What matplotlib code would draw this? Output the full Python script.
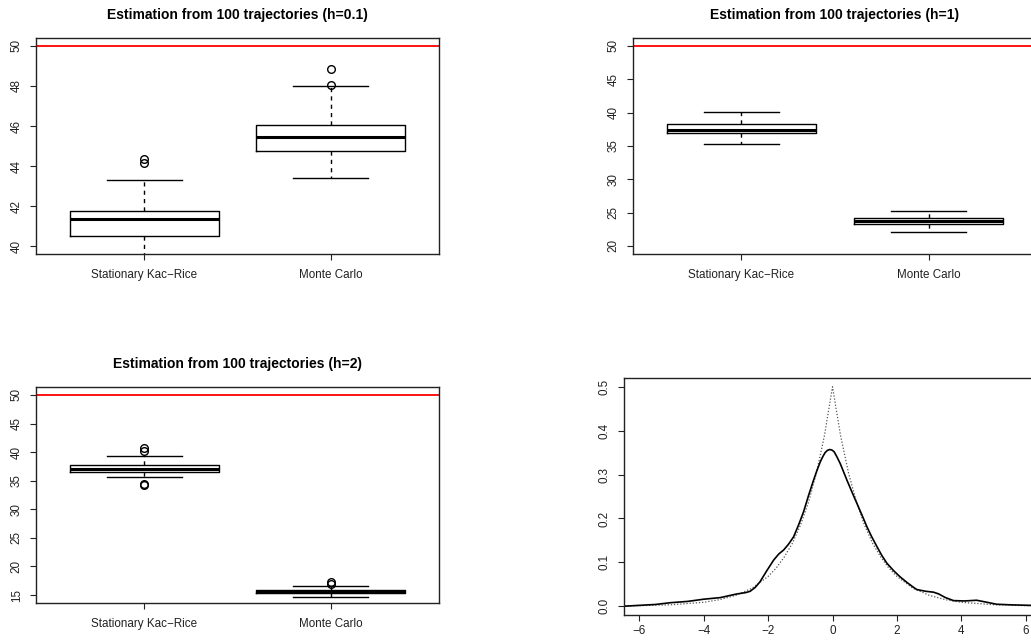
import matplotlib
matplotlib.use("Agg")
import matplotlib.pyplot as plt

plt.rcParams["font.family"] = ["Liberation Sans", "DejaVu Sans"]

W, H = 1031, 640

group_labels = ["Stationary Kac\u2212Rice", "Monte Carlo"]
titles = ["Estimation from 100 trajectories (h=0.1)",
          "Estimation from 100 trajectories (h=1)",
          "Estimation from 100 trajectories (h=2)"]
true_value = 50

# boxplot summaries: (whislo, q1, med, q3, whishi, outliers)
h01_kac = (39.0, 40.5, 41.37, 41.77, 43.3, [44.13, 44.33])
h01_mc = (43.42, 44.77, 45.45, 46.07, 48.0, [48.05, 48.85])
h1_kac = (35.3, 36.9, 37.42, 38.27, 40.08, [])
h1_mc = (22.1, 23.36, 23.8, 24.26, 25.22, [])
h2_kac = (35.63, 36.5, 36.97, 37.8, 39.32, [40.13, 40.73, 34.3, 34.45])
h2_mc = (14.72, 15.35, 15.55, 15.83, 16.58, [16.88, 17.35])

ylims = [(40, 50), (20, 50), (15, 50)]
yticks = [[40, 42, 44, 46, 48, 50], [20, 25, 30, 35, 40, 45, 50],
          [15, 20, 25, 30, 35, 40, 45, 50]]

# density panel
dens_x = [-6.48, -6.0, -5.5, -5.04, -4.5, -4.0, -3.49, -2.97, -2.7, -2.56,
          -2.4, -2.25, -2.05, -1.83, -1.67, -1.52, -1.37, -1.21, -1.05, -0.9,
          -0.75, -0.59, -0.48, -0.38, -0.3, -0.23, -0.16, -0.09, -0.02, 0.05,
          0.14, 0.24, 0.34, 0.45, 0.6, 0.76, 0.92, 1.07, 1.22, 1.38, 1.53,
          1.69, 1.9, 2.1, 2.3, 2.5, 2.62, 2.9, 3.14, 3.3, 3.5, 3.76, 4.1, 4.48,
          4.8, 5.1, 5.6, 6.14, 6.48]
dens_y = [0.0, 0.002, 0.004, 0.008, 0.011, 0.016, 0.0196, 0.028, 0.031,
          0.034, 0.043, 0.056, 0.08, 0.105, 0.119, 0.128, 0.141, 0.158, 0.186,
          0.215, 0.251, 0.287, 0.31, 0.329, 0.341, 0.35, 0.355, 0.357, 0.356,
          0.352, 0.34, 0.325, 0.307, 0.287, 0.261, 0.234, 0.207, 0.181, 0.158,
          0.136, 0.116, 0.098, 0.081, 0.067, 0.055, 0.044, 0.038, 0.034,
          0.032, 0.028, 0.02, 0.0128, 0.012, 0.0136, 0.009, 0.0045, 0.003,
          0.002, 0.0015]
lap_x = [-6.48, -6.0, -5.0, -4.0, -3.5, -3.0, -2.5, -2.0, -1.75, -1.5, -1.25,
         -1.0, -0.75, -0.5, -0.25, 0.0, 0.25, 0.5, 0.75, 1.0, 1.25, 1.5, 1.75,
         2.0, 2.5, 3.0, 3.5, 4.0, 5.0, 6.0, 6.48]
lap_y = [0.0008, 0.0012, 0.0034, 0.009, 0.015, 0.025, 0.041, 0.068, 0.087,
         0.112, 0.143, 0.184, 0.236, 0.303, 0.389, 0.5, 0.389, 0.303, 0.236,
         0.184, 0.143, 0.112, 0.087, 0.068, 0.041, 0.025, 0.015, 0.009,
         0.0034, 0.0012, 0.0008]
dens_xticks = [-6, -4, -2, 0, 2, 4, 6]
dens_yticks = [0.0, 0.1, 0.2, 0.3, 0.4, 0.5]


def px_axes(fig, left, top, right, bottom):
    return fig.add_axes([left / W, 1 - bottom / H, (right - left) / W, (bottom - top) / H])


def r_style(ax, xpad=6.5):
    for s in ax.spines.values():
        s.set_linewidth(1.0)
        s.set_color("#222222")
    ax.tick_params(axis="both", direction="out", length=4.5, width=0.8,
                   labelsize=8.4, colors="#222222")
    ax.tick_params(axis="y", pad=5)
    ax.tick_params(axis="x", pad=xpad)
    for lab in ax.get_yticklabels():
        lab.set_rotation(90)
        lab.set_va("center")


def stats(s, label):
    return {"whislo": s[0], "q1": s[1], "med": s[2], "q3": s[3],
            "whishi": s[4], "fliers": s[5], "label": label}


def box_panel(ax, kac, mc, ylim, ticks, title):
    ax.bxp([stats(kac, group_labels[0]), stats(mc, group_labels[1])],
           positions=[1, 2], widths=0.8, capwidths=0.4,
           boxprops=dict(color="black", linewidth=1.0),
           medianprops=dict(color="black", linewidth=2.2),
           whiskerprops=dict(color="black", linewidth=1.0, linestyle=(0, (3, 3))),
           capprops=dict(color="black", linewidth=1.0),
           flierprops=dict(marker="o", markerfacecolor="none",
                           markeredgecolor="black", markersize=5.5,
                           markeredgewidth=1.0))
    ax.axhline(true_value, color="red", linewidth=1.3)
    span = ylim[1] - ylim[0]
    ax.set_ylim(ylim[0] - 0.04 * span, ylim[1] + 0.04 * span)
    ax.set_xlim(0.42, 2.58)
    ax.set_yticks(ticks)
    ax.set_xticks([1, 2])
    ax.set_xticklabels(group_labels)
    ax.set_title(title, fontsize=10, fontweight="bold", pad=14)
    r_style(ax)


fig = plt.figure(figsize=(W / 100, H / 100), dpi=100)

ax1 = px_axes(fig, 36, 38, 439, 254)
box_panel(ax1, h01_kac, h01_mc, ylims[0], yticks[0], titles[0])

ax2 = px_axes(fig, 633, 38, 1037, 254)
box_panel(ax2, h1_kac, h1_mc, ylims[1], yticks[1], titles[1])

ax3 = px_axes(fig, 36, 387, 439, 603)
box_panel(ax3, h2_kac, h2_mc, ylims[2], yticks[2], titles[2])

ax4 = px_axes(fig, 624, 378, 1041, 615)
ax4.plot(lap_x, lap_y, color="#555555", linewidth=0.9, linestyle=(0, (1, 1.5)))
ax4.plot(dens_x, dens_y, color="black", linewidth=1.2)
ax4.set_xlim(-6.48, 6.48)
ax4.set_ylim(-0.02, 0.52)
ax4.set_xticks(dens_xticks)
ax4.set_yticks(dens_yticks)
ax4.set_yticklabels([f"{v:.1f}" for v in dens_yticks])
r_style(ax4, xpad=2.5)

fig.savefig("out.png", dpi=100)
